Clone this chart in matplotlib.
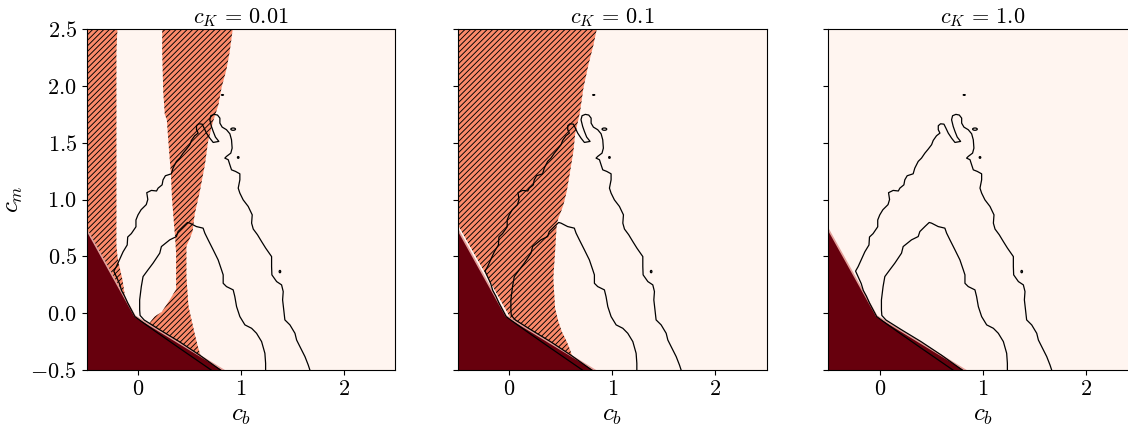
import numpy as np
import matplotlib
matplotlib.use("Agg")
import matplotlib.pyplot as plt
from matplotlib.patches import Ellipse

plt.rcParams['font.family'] = 'serif'
plt.rcParams['font.serif'] = ['cmr10']
plt.rcParams['mathtext.fontset'] = 'cm'
plt.rcParams['axes.formatter.use_mathtext'] = True
plt.rcParams['hatch.linewidth'] = 0.65

# panel parameter
c_K = ['0.01', '0.1', '1.0']

# region boundaries (c_b, c_m)
dark_cb = [-0.6, -0.6, -0.03, 1.01]
dark_cm = [-0.6, 0.9, -0.025, -0.6]

# c_K = 0.01 : two unstable strips
left_strip_cb = [-0.6, -0.2, -0.2, -0.21, -0.21, -0.21, -0.20, -0.18, -0.15, -0.12, -0.6]
left_strip_cm = [2.6, 2.6, 2.5, 2.3, 1.0, 0.6, 0.5, 0.41, 0.29, 0.10, 0.5]

mid_strip_cb = [0.235, 0.235, 0.245, 0.26, 0.28, 0.30, 0.32, 0.33, 0.35, 0.36, 0.37, 0.37,
                0.31, 0.23, 0.16, 0.10, 0.05, 0.65, 0.63, 0.60, 0.58, 0.55, 0.52, 0.49,
                0.47, 0.47, 0.50, 0.53, 0.55, 0.60, 0.65, 0.68, 0.73, 0.78, 0.81, 0.86,
                0.89, 0.92, 0.935]
mid_strip_cm = [2.6, 2.3, 1.95, 1.75, 1.70, 1.45, 1.22, 1.01, 0.78, 0.67, 0.53, 0.21,
                0.12, 0.01, -0.03, -0.10, -0.2, -0.6, -0.45, -0.35, -0.29, -0.18, -0.06, 0.06,
                0.32, 0.59, 0.65, 0.72, 0.87, 1.07, 1.31, 1.51, 1.69, 1.83, 1.98, 2.15,
                2.3, 2.5, 2.6]

# c_K = 0.1 : one wedge
wedge_cb = [-0.6, 0.86, 0.85, 0.818, 0.769, 0.72, 0.688, 0.639, 0.623, 0.591, 0.558, 0.526,
            0.503, 0.477, 0.461, 0.445, 0.428, 0.445, 0.477, 0.51, 0.558, 0.591, 0.607,
            0.64, 0.02, -0.02, -0.5, -0.6]
wedge_cm = [2.6, 2.6, 2.5, 2.362, 2.186, 1.98, 1.775, 1.57, 1.423, 1.247, 1.071, 0.953,
            0.895, 0.836, 0.777, 0.543, 0.308, 0.044, -0.073, -0.161, -0.25, -0.323, -0.367,
            -0.5, -0.06, 0.01, 0.78, 0.78]

# contour lines (same in every panel)
outer_cb = [0.71, 0.55, 0.39, 0.20, 0.06, -0.03, -0.065, -0.10, -0.13, -0.16, -0.18, -0.21,
            -0.235, -0.21, -0.18, -0.145, -0.105, -0.10, -0.065, -0.02, -0.02, 0.0, 0.03, 0.08,
            0.095, 0.085, 0.13, 0.18, 0.195, 0.234, 0.243, 0.266, 0.324, 0.340, 0.373, 0.405,
            0.438, 0.470, 0.503, 0.519, 0.551, 0.584, 0.568, 0.568, 0.590, 0.623, 0.642, 0.665,
            0.697, 0.730, 0.785, 0.752, 0.730, 0.713, 0.697, 0.707, 0.739, 0.772, 0.795, 0.795,
            0.817, 0.859, 0.892, 0.908, 0.914, 0.901, 0.859, 0.843, 0.876, 0.892, 0.908, 0.947,
            0.989, 0.989, 0.973, 0.989, 1.021, 1.070, 1.109, 1.103, 1.119, 1.160, 1.200, 1.240,
            1.297, 1.297, 1.300, 1.346, 1.394, 1.410, 1.404, 1.415, 1.426, 1.475, 1.524, 1.540,
            1.572, 1.621, 1.653, 1.669]
outer_cm = [-0.50, -0.40, -0.30, -0.18, -0.09, -0.03, 0.03, 0.09, 0.15, 0.20, 0.26, 0.32,
            0.37, 0.41, 0.47, 0.54, 0.60, 0.67, 0.70, 0.76, 0.82, 0.865, 0.91, 0.955,
            1.0, 1.06, 1.08, 1.075, 1.10, 1.129, 1.173, 1.209, 1.226, 1.276, 1.335, 1.364,
            1.408, 1.443, 1.482, 1.520, 1.561, 1.584, 1.614, 1.649, 1.666, 1.663, 1.628, 1.584,
            1.540, 1.502, 1.511, 1.549, 1.599, 1.643, 1.702, 1.737, 1.749, 1.743, 1.716, 1.672,
            1.637, 1.614, 1.578, 1.525, 1.452, 1.408, 1.379, 1.364, 1.350, 1.305, 1.261, 1.247,
            1.226, 1.173, 1.100, 1.056, 0.997, 0.939, 0.865, 0.792, 0.740, 0.690, 0.630, 0.572,
            0.498, 0.410, 0.337, 0.278, 0.249, 0.190, 0.117, 0.030, -0.059, -0.103, -0.177, -0.236,
            -0.294, -0.382, -0.456, -0.500]

inner_cb = [0.80, 0.60, 0.40, 0.20, 0.06, 0.02, 0.016, 0.016, 0.032, 0.049, 0.097, 0.146,
            0.211, 0.227, 0.308, 0.373, 0.389, 0.438, 0.48, 0.503, 0.567, 0.632, 0.649, 0.681,
            0.73, 0.778, 0.811, 0.827, 0.827, 0.859, 0.924, 0.94, 0.957, 0.989, 1.038, 1.103,
            1.151, 1.2, 1.232, 1.239, 1.239]
inner_cm = [-0.50, -0.37, -0.25, -0.14, -0.06, -0.02, 0.029, 0.117, 0.234, 0.322, 0.381, 0.44,
            0.528, 0.586, 0.645, 0.674, 0.718, 0.762, 0.798, 0.792, 0.762, 0.748, 0.704, 0.645,
            0.557, 0.469, 0.381, 0.337, 0.263, 0.234, 0.205, 0.146, 0.058, -0.03, -0.103, -0.133,
            -0.177, -0.25, -0.353, -0.441, -0.5]

# small closed contours
island_cb = [0.82, 0.924, 0.973, 1.378]
island_cm = [1.92, 1.619, 1.37, 0.366]
island_w = [0.02, 0.045, 0.015, 0.015]
island_h = [0.006, 0.02, 0.015, 0.02]

dark = '#67000d'
salmon = '#fc8a6a'
light = '#fff5f0'

fig = plt.figure(figsize=(11.28, 4.29), dpi=100)
lefts = [0.0767, 0.4058, 0.7343]
axes = [fig.add_axes([l, 0.1375, 0.2739, 0.7949]) for l in lefts]

for i, ax in enumerate(axes):
    ax.set_facecolor(light)
    if i == 0:
        ax.fill(left_strip_cb, left_strip_cm, facecolor=salmon, edgecolor='black',
                linewidth=0, hatch='//////')
        ax.fill(mid_strip_cb, mid_strip_cm, facecolor=salmon, edgecolor='black',
                linewidth=0, hatch='//////')
    elif i == 1:
        ax.fill(wedge_cb, wedge_cm, facecolor=salmon, edgecolor='black',
                linewidth=0, hatch='//////')
    ax.fill(dark_cb, dark_cm, facecolor=dark, edgecolor='#e2a09a', linewidth=1.2)
    ax.plot(outer_cb, outer_cm, color='black', lw=0.9)
    ax.plot(inner_cb, inner_cm, color='black', lw=0.9)
    for cx, cy, w, h in zip(island_cb, island_cm, island_w, island_h):
        ax.add_patch(Ellipse((cx, cy), w, h, fill=False, edgecolor='black', lw=0.9))

    ax.set_xlim(-0.5, 2.5)
    ax.set_ylim(-0.5, 2.5)
    ax.set_xticks([0, 1, 2])
    ax.set_yticks(np.arange(-0.5, 2.6, 0.5))
    ax.tick_params(labelsize=16)
    ax.set_title(r'$c_K \,=\, %s$' % c_K[i], fontsize=16, pad=2.5)
    ax.set_xlabel(r'$c_b$', fontsize=18)
    if i == 0:
        ax.set_ylabel(r'$c_m$', fontsize=18)
    else:
        ax.tick_params(labelleft=False)

fig.savefig('out.png', dpi=100)
